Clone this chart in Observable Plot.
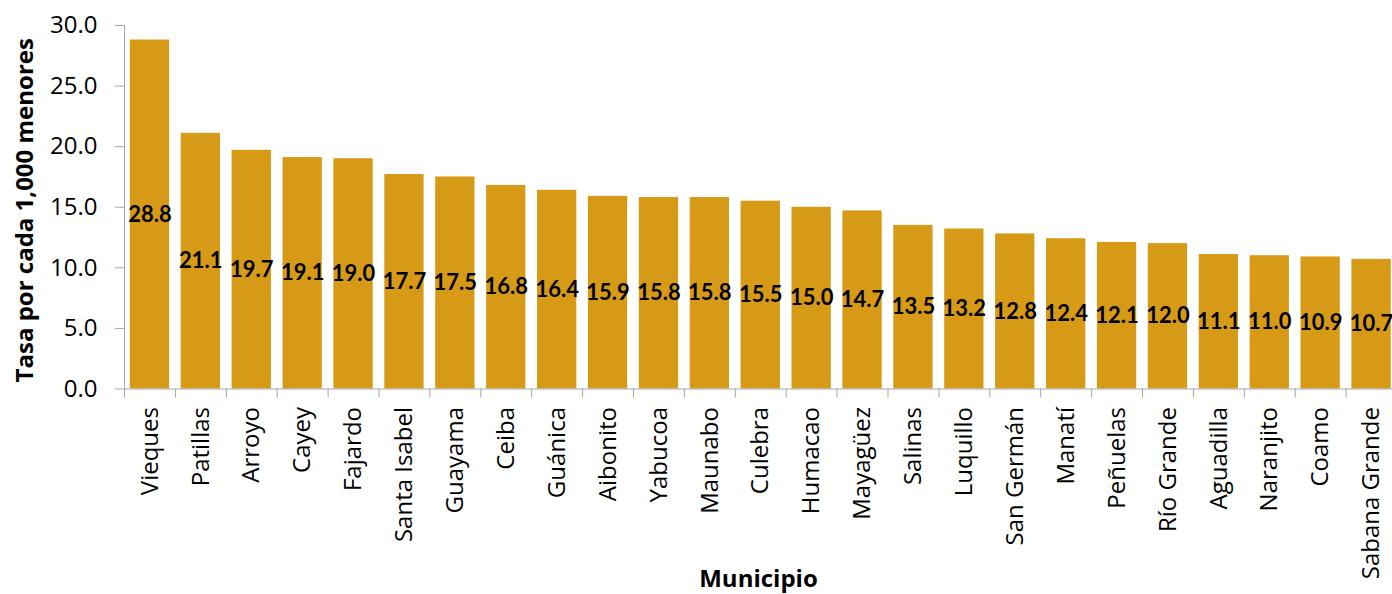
<!DOCTYPE html>
<html>
<head>
<meta charset="utf-8">
<script src="https://cdn.jsdelivr.net/npm/d3@7"></script>
<script src="https://cdn.jsdelivr.net/npm/@observablehq/plot@0.6"></script>
<style>
  html, body { margin: 0; padding: 0; background: white; overflow: hidden; }
  #chart svg { display: block; }
</style>
</head>
<body>
<div id="chart"></div>
<script>
const municipios = ["Vieques","Patillas","Arroyo","Cayey","Fajardo","Santa Isabel","Guayama","Ceiba","Guánica","Aibonito","Yabucoa","Maunabo","Culebra","Humacao","Mayagüez","Salinas","Luquillo","San Germán","Manatí","Peñuelas","Río Grande","Aguadilla","Naranjito","Coamo","Sabana Grande"];
const tasas = [28.8,21.1,19.7,19.1,19.0,17.7,17.5,16.8,16.4,15.9,15.8,15.8,15.5,15.0,14.7,13.5,13.2,12.8,12.4,12.1,12.0,11.1,11.0,10.9,10.7];
const yTicks = [0,5,10,15,20,25,30];
const yTitle = "Tasa por cada 1,000 menores";
const xTitle = "Municipio";

const data = municipios.map((m, i) => ({municipio: m, tasa: tasas[i]}));

const W = 1392, H = 594;
const x0 = 124, x1 = 1396.5, yBottom = 388.5, yTop = 25;
const step = (x1 - x0) / municipios.length;
const axisColor = "#a6a6a6";

const chart = Plot.plot({
  width: W, height: H,
  marginLeft: x0, marginRight: 0, marginTop: yTop, marginBottom: H - yBottom,
  style: {fontFamily: "'Open Sans', sans-serif", fontSize: "24px", background: "white", color: "black"},
  x: {domain: municipios, range: [x0, x1], paddingInner: 0.228, paddingOuter: 0.114, align: 0.5, round: false, label: null},
  y: {domain: [0, 30], range: [yBottom, yTop], label: null},
  marks: [
    Plot.barY(data, {x: "municipio", y: "tasa", fill: "#D79A17"}),
    Plot.text(data, {x: "municipio", y: d => d.tasa / 2, text: d => d.tasa.toFixed(1), fontWeight: "bold", fontFamily: "Lato, sans-serif", fontSize: 22, fill: "black"}),
    Plot.frame({anchor: "left", stroke: axisColor}),
    Plot.frame({anchor: "bottom", stroke: axisColor}),
    Plot.axisY({ticks: yTicks, tickFormat: d => d.toFixed(1), tickSize: 9, tickPadding: 18, stroke: axisColor, fill: "black", fontSize: 24, label: null}),
    Plot.axisX({tickSize: 9, tickFormat: () => "", dx: -step / 2, stroke: axisColor, label: null}),
    Plot.axisX({tickSize: 0, tickRotate: -90, tickPadding: 18, fill: "black", fontSize: 24, label: null}),
    Plot.text([yTitle], {text: d => d, frameAnchor: "left", textAnchor: "middle", lineAnchor: "middle", dx: 25 - x0, dy: 3, rotate: -90, fontWeight: "bold", fontSize: 24, fill: "black"}),
    Plot.text([xTitle], {text: d => d, frameAnchor: "bottom", textAnchor: "middle", lineAnchor: "middle", dy: 190, fontWeight: "bold", fontSize: 24, fill: "black"})
  ]
});
document.getElementById("chart").appendChild(chart);
</script>
</body>
</html>
